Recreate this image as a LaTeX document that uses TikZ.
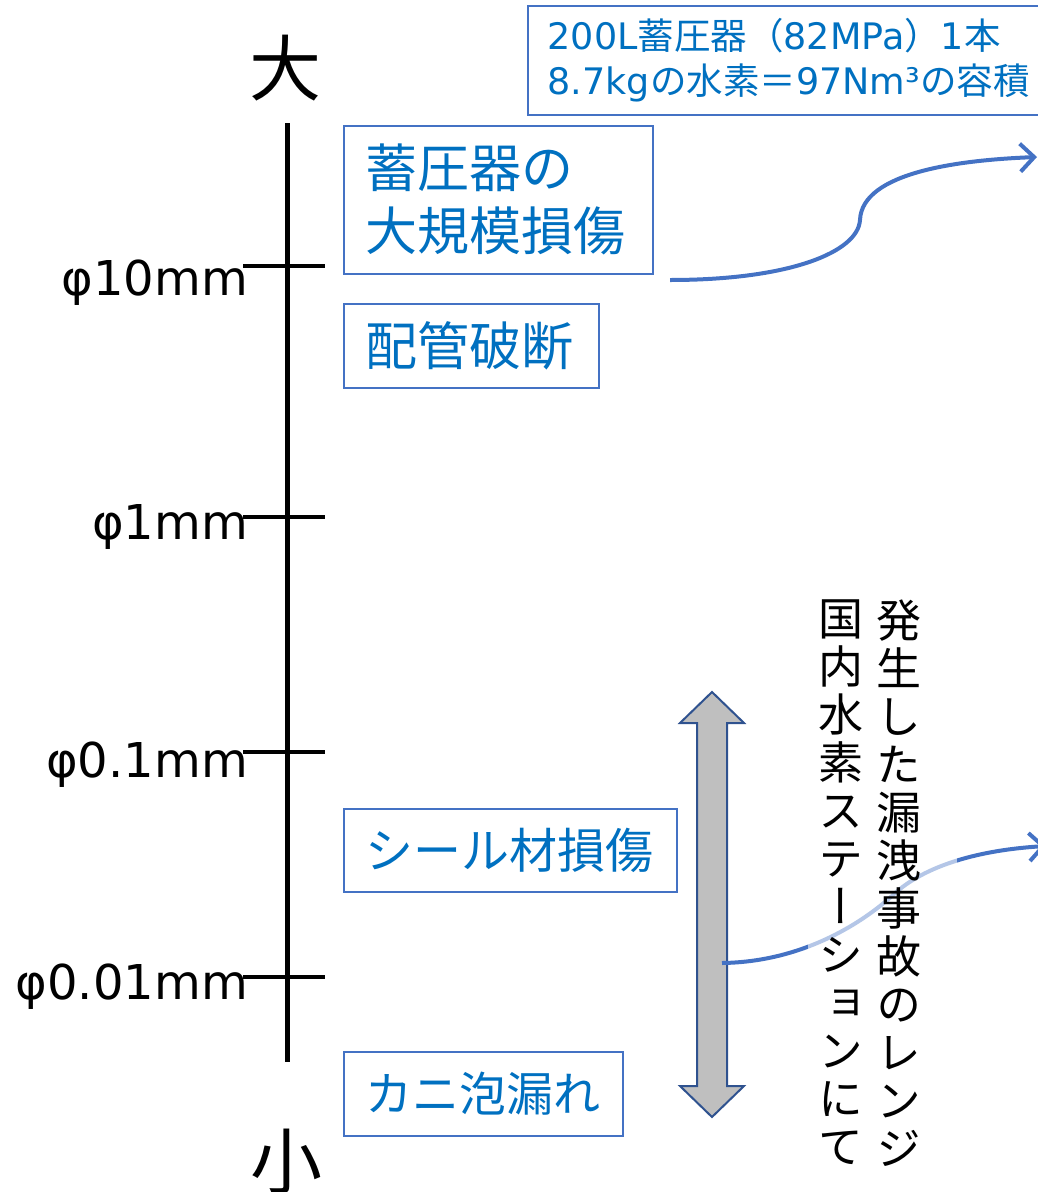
\documentclass[tikz,border=0pt]{standalone}
\usepackage{fontspec}
\setmainfont{Noto Sans CJK JP}
\newfontfamily\lat{DejaVu Sans}
\newfontfamily\vjp[RawFeature=+vert]{Noto Sans CJK JP}
\usetikzlibrary{arrows.meta,calc}
\definecolor{txtblue}{HTML}{0070C0}
\definecolor{lineblue}{HTML}{4472C4}
\definecolor{darkblue}{HTML}{2F528F}
\definecolor{barfill}{HTML}{BFBFBF}
\begin{document}
\begin{tikzpicture}[x=1pt,y=-1pt,
  box/.style={draw=lineblue, line width=1.5pt, text=txtblue, inner xsep=22pt, inner ysep=0pt,
    align=left, anchor=north west, font=\fontsize{52}{63}\selectfont},
  axislbl/.style={anchor=base east, inner sep=0pt, font=\lat\fontsize{48}{56}\selectfont},
  endlbl/.style={inner sep=0pt, font=\fontsize{72}{80}\selectfont},
  tickline/.style={line width=4.5pt, black},
  conn/.style={draw=lineblue, line width=4pt, -{Straight Barb[length=14pt,width=28pt,line width=4pt]}},
  vcol/.style={anchor=north, inner sep=0pt, align=center, font=\vjp\fontsize{45}{48}\selectfont}]
\useasboundingbox (0,0) rectangle (1038,1192);

% axis
\coordinate (atop) at (287,123);
\coordinate (abot) at (287,1062);
\draw[line width=5pt] (atop) -- (abot);
\node[endlbl] (big) at (285,68) {大};
\node[endlbl] (small) at (286,1162) {小};

% ticks
\foreach \yy/\nm in {266/t1,517/t2,752/t3,977/t4}{
  \coordinate (\nm l) at (243,\yy);
  \coordinate (\nm r) at (325,\yy);
  \draw[tickline] (\nm l) -- (\nm r);
}
\node[axislbl] (l1) at (248,295) {φ10mm};
\node[axislbl] (l2) at (248,539) {φ1mm};
\node[axislbl] (l3) at (248,777) {φ0.1mm};
\node[axislbl] (l4) at (248,999) {φ0.01mm};

% boxes
\node[box, text width=265pt, minimum height=148pt] (tank) at (343,125) {蓄圧器の\\大規模損傷};
\node[box, text width=211pt, minimum height=84pt] (pipe) at (343,303) {配管破断};
\node[box, text width=289pt, minimum height=83pt, font=\fontsize{48}{58}\selectfont] (seal) at (343,808) {シール材損傷};
\node[box, text width=235pt, minimum height=84pt, font=\fontsize{47}{58}\selectfont] (crab) at (343,1051) {カニ泡漏れ};

% note box
\node[draw=lineblue, line width=1.5pt, text=txtblue, inner xsep=20pt, inner ysep=0pt,
  align=left, anchor=north west, text width=478pt, minimum height=109pt,
  font=\fontsize{36.5}{45}\selectfont] (note) at (527,5)
  {{\lat 200L}蓄圧器（{\lat 82MPa}）{\lat 1}本\\{\lat 8.7kg}の水素＝{\lat 97Nm³}の容積};

% double arrow
\coordinate (gauge) at (722,963);
\filldraw[fill=barfill, draw=darkblue, line width=2pt, line join=miter]
  (712,692) -- (744,723) -- (727,723) -- (727,1086) -- (744,1086) -- (712,1117)
  -- (680,1086) -- (697,1086) -- (697,723) -- (680,723) -- cycle;

% connectors
\coordinate (c1s) at (670,280);
\coordinate (c1e) at (1037,157);
\draw[conn] (c1s) .. controls (790,280) and (858,252) .. (860,220)
  .. controls (862,172) and (960,160) .. (c1e);
\coordinate (c2e) at (1046,846);
\draw[conn] (gauge) .. controls (800,962) and (860,925) .. (893,895)
  .. controls (925,865) and (980,850) .. (c2e);

% text block (semi-transparent fill)
\fill[white, opacity=0.6] (808,585) rectangle (957,1180);
\node[vcol] (vright) at (899,600) {発\\生\\し\\た\\漏\\洩\\事\\故\\の\\レ\\ン\\ジ};
\node[vcol] (vleft) at (841,600) {国\\内\\水\\素\\ス\\テ\\ー\\シ\\ョ\\ン\\に\\て};
\end{tikzpicture}
\end{document}
